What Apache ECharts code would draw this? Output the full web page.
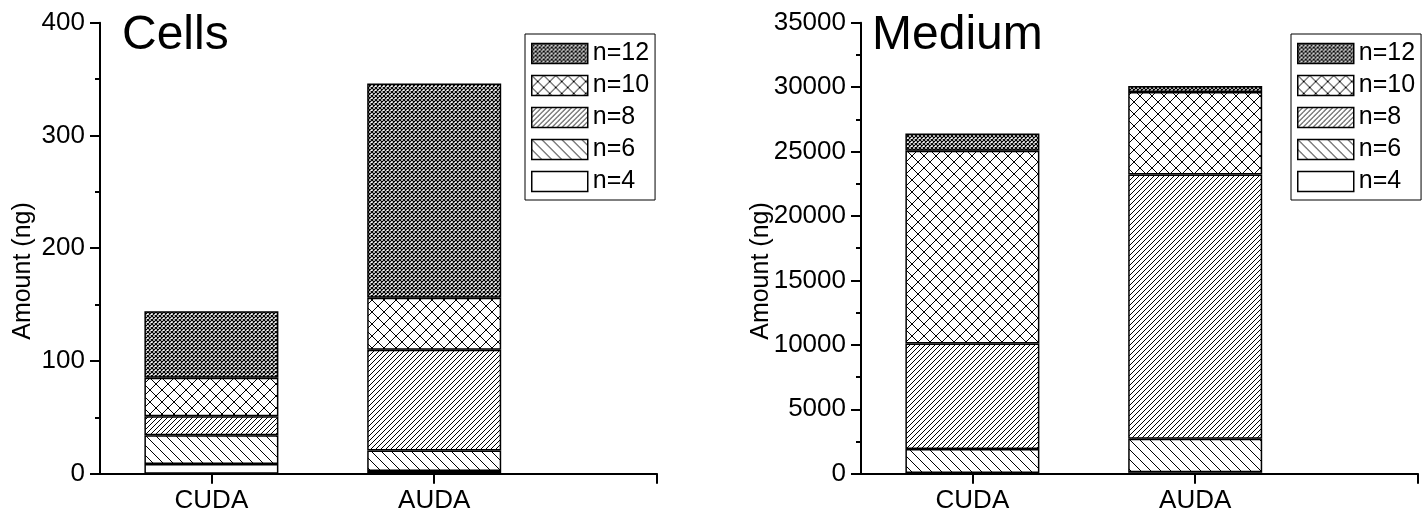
<!DOCTYPE html>
<html>
<head>
<meta charset="utf-8">
<script src="https://cdn.jsdelivr.net/npm/echarts@6/dist/echarts.min.js"></script>
<style>
  html, body { margin: 0; padding: 0; background: #fff; }
  #chart { width: 1426px; height: 524px; }
</style>
</head>
<body>
<div id="chart"></div>
<script>
// Categories and their positions on the x axis (axis runs from 0.5 to 3)
const categories = ['CUDA', 'AUDA'];
const categoryPos = [1, 2];
const axisMin = 0.5, axisMax = 3, slotStep = 0.5;
const seriesNames = ['n=4', 'n=6', 'n=8', 'n=10', 'n=12'];

// Cells (ng), one value per category
const cellsN4 = [8.5, 2.5];
const cellsN6 = [25.5, 18];
const cellsN8 = [17, 89.5];
const cellsN10 = [34, 46];
const cellsN12 = [59, 190];

// Medium (ng), one value per category
const mediumN4 = [60, 120];
const mediumN6 = [1850, 2600];
const mediumN8 = [8200, 20500];
const mediumN10 = [14950, 6400];
const mediumN12 = [1350, 470];

// Y axis ranges
const cellsYMax = 400, cellsYStep = 100;
const mediumYMax = 35000, mediumYStep = 5000;

const FONT = "'Liberation Sans', Arial, sans-serif";

// Half-unit slots along the x axis; categories sit on whole units
const slotCount = Math.round((axisMax - axisMin) / slotStep) + 1;
const slotOf = p => Math.round((p - axisMin) / slotStep);
const slots = [];
for (let i = 0; i < slotCount; i++) {
  const k = categoryPos.indexOf(axisMin + i * slotStep);
  slots.push(k >= 0 ? categories[k] : ' ' + i);
}
const tickSlots = [slotOf(1), slotOf(2), slotOf(3)];
const labelSlots = categoryPos.map(slotOf);

// Hatch fill tiles drawn on a small canvas
function hatch(size, dirs, lw) {
  const c = document.createElement('canvas');
  c.width = c.height = size;
  const g = c.getContext('2d');
  g.fillStyle = '#fff';
  g.fillRect(0, 0, size, size);
  g.strokeStyle = '#000';
  g.lineWidth = lw;
  g.beginPath();
  for (const k of [-1, 0, 1]) {
    if (dirs.indexOf('\\') >= 0) { g.moveTo(k * size, 0); g.lineTo(k * size + size, size); }
    if (dirs.indexOf('/') >= 0) { g.moveTo(k * size, size); g.lineTo(k * size + size, 0); }
  }
  g.stroke();
  return { image: c, repeat: 'repeat' };
}

const fills = {
  'n=4': '#ffffff',
  'n=6': hatch(10, '\\', 1),
  'n=8': hatch(5, '/', 1),
  'n=10': hatch(12, '\\/', 1),
  'n=12': hatch(4, '\\/', 1.2)
};

const cellsData = [cellsN4, cellsN6, cellsN8, cellsN10, cellsN12];
const mediumData = [mediumN4, mediumN6, mediumN8, mediumN10, mediumN12];

function barSeries(values, idx, stack) {
  return values.map((vals, i) => {
    const data = slots.map(() => null);
    categoryPos.forEach((p, j) => { data[slotOf(p)] = vals[j]; });
    return {
      name: seriesNames[i],
      type: 'bar',
      stack: stack,
      xAxisIndex: idx,
      yAxisIndex: idx,
      barWidth: 134,
      data: data,
      itemStyle: { color: fills[seriesNames[i]], borderColor: '#000', borderWidth: 1.5 },
      emphasis: { disabled: true }
    };
  });
}

function xAxis(idx) {
  return {
    type: 'category', gridIndex: idx, data: slots, boundaryGap: false,
    splitLine: { show: false },
    axisLine: { show: true, lineStyle: { color: '#000', width: 2 } },
    axisTick: { show: true, interval: i => tickSlots.indexOf(i) >= 0, length: 10, lineStyle: { color: '#000', width: 2 } },
    axisLabel: {
      interval: i => labelSlots.indexOf(i) >= 0,
      margin: 14, color: '#000', fontSize: 26, fontFamily: FONT
    }
  };
}

function yAxis(idx, max, step) {
  return {
    type: 'value', gridIndex: idx, min: 0, max: max, interval: step,
    splitLine: { show: false },
    axisLine: { show: true, lineStyle: { color: '#000', width: 2 } },
    axisTick: { show: true, length: 10, lineStyle: { color: '#000', width: 2 } },
    minorTick: { show: true, splitNumber: 2, length: 5, lineStyle: { color: '#000', width: 2 } },
    axisLabel: { margin: 15, color: '#000', fontSize: 26, fontFamily: FONT, formatter: v => String(v) }
  };
}

function legend(left) {
  return {
    orient: 'vertical', left: left, top: 34,
    data: seriesNames.slice().reverse(),
    icon: 'rect', itemWidth: 56, itemHeight: 20, itemGap: 7,
    padding: [7, 6, 6, 6],
    borderColor: '#000', borderWidth: 1,
    selectedMode: false,
    itemStyle: { borderColor: '#000', borderWidth: 1.5 },
    textStyle: { color: '#000', fontSize: 25, fontFamily: FONT }
  };
}

const chart = echarts.init(document.getElementById('chart'), null, { renderer: 'canvas' });
chart.setOption({
  animation: false,
  backgroundColor: '#fff',
  title: [
    { text: 'Cells', left: 122, top: 12, padding: 0, textStyle: { fontSize: 48, fontWeight: 'normal', color: '#000', fontFamily: FONT } },
    { text: 'Medium', left: 872, top: 12, padding: 0, textStyle: { fontSize: 48, fontWeight: 'normal', color: '#000', fontFamily: FONT } }
  ],
  graphic: [
    { type: 'text', x: 23, y: 271, rotation: Math.PI / 2,
      style: { text: 'Amount (ng)', fill: '#000', font: '25px ' + FONT, align: 'center', verticalAlign: 'middle' } },
    { type: 'text', x: 761, y: 271, rotation: Math.PI / 2,
      style: { text: 'Amount (ng)', fill: '#000', font: '25px ' + FONT, align: 'center', verticalAlign: 'middle' } }
  ],
  legend: [legend(525), legend(1291)],
  grid: [
    { left: 100, top: 22.7, width: 557, height: 451 },
    { left: 861, top: 22.7, width: 557, height: 451 }
  ],
  xAxis: [xAxis(0), xAxis(1)],
  yAxis: [yAxis(0, cellsYMax, cellsYStep), yAxis(1, mediumYMax, mediumYStep)],
  series: barSeries(cellsData, 0, 'cells').concat(barSeries(mediumData, 1, 'medium'))
});
</script>
</body>
</html>
